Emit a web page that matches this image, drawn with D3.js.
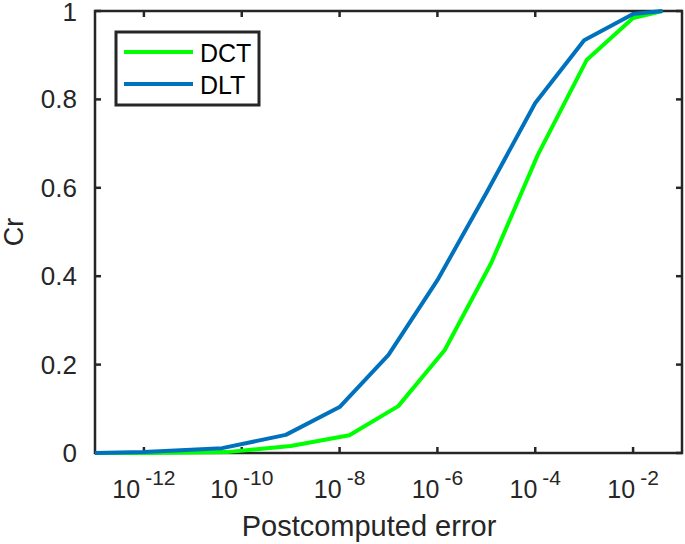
<!DOCTYPE html>
<html>
<head>
<meta charset="utf-8">
<script src="https://cdn.jsdelivr.net/npm/d3@7"></script>
<style>
  body { margin: 0; background: #fff; }
  svg { display: block; font-family: "Liberation Sans", Arial, Helvetica, sans-serif; }
</style>
</head>
<body>
<div id="chart"></div>
<script>
// values (x as exponent of 10)
const dctExp = [-13, -12, -10.3, -9, -7.8, -6.8, -5.85, -4.9, -3.95, -2.95, -2, -1.4];
const dctCr  = [0, 0, 0.002, 0.016, 0.04, 0.106, 0.233, 0.43, 0.674, 0.889, 0.984, 1.0];
const dltExp = [-13, -12, -10.4, -9.1, -8, -7, -6, -5, -4, -3, -2, -1.4];
const dltCr  = [0, 0.002, 0.011, 0.041, 0.104, 0.222, 0.391, 0.588, 0.792, 0.934, 0.993, 1.0];

const xTickExp = [-12, -10, -8, -6, -4, -2];
const yTicks = [0, 0.2, 0.4, 0.6, 0.8, 1];

const seriesNames = ["DCT", "DLT"];
const seriesColors = ["#00ff00", "#0072bd"];

const W = 685, H = 544;
const mLeft = 95, mRight = 682, mTop = 11, mBottom = 453;
const axisColor = "#262626";

const svg = d3.select("#chart").append("svg").attr("width", W).attr("height", H);

const x = d3.scaleLog().domain([1e-13, 1e-1]).range([mLeft, mRight]);
const y = d3.scaleLinear().domain([0, 1]).range([mBottom, mTop]);

drawAxes();
drawLines();
drawLegend();

function drawAxes() {
  const tl = 6;
  // ticks, inward on all four sides
  xTickExp.forEach(e => {
    const px = x(Math.pow(10, e));
    svg.append("line").attr("x1", px).attr("x2", px).attr("y1", mBottom).attr("y2", mBottom - tl)
      .attr("stroke", axisColor).attr("stroke-width", 2.5);
    svg.append("line").attr("x1", px).attr("x2", px).attr("y1", mTop).attr("y2", mTop + tl)
      .attr("stroke", axisColor).attr("stroke-width", 2.5);

    const t = svg.append("text")
      .attr("x", px).attr("y", 498)
      .attr("text-anchor", "middle")
      .attr("fill", axisColor)
      .style("font-size", "25px");
    t.append("tspan").text("10");
    t.append("tspan").attr("dy", -13).attr("dx", 5).style("font-size", "21px").text(String(e));
  });

  yTicks.forEach(v => {
    const py = y(v);
    svg.append("line").attr("x1", mLeft).attr("x2", mLeft + tl).attr("y1", py).attr("y2", py)
      .attr("stroke", axisColor).attr("stroke-width", 2.5);
    svg.append("line").attr("x1", mRight).attr("x2", mRight - tl).attr("y1", py).attr("y2", py)
      .attr("stroke", axisColor).attr("stroke-width", 2.5);
    svg.append("text")
      .attr("x", 77).attr("y", Math.max(py + 9, 21))
      .attr("text-anchor", "end")
      .attr("fill", axisColor)
      .style("font-size", "26px")
      .text(v === 0 || v === 1 ? String(v) : v.toFixed(1));
  });

  svg.append("rect")
    .attr("x", mLeft).attr("y", mTop)
    .attr("width", mRight - mLeft).attr("height", mBottom - mTop)
    .attr("fill", "none").attr("stroke", axisColor).attr("stroke-width", 2.5);

  svg.append("text")
    .attr("x", 369).attr("y", 536)
    .attr("text-anchor", "middle")
    .attr("fill", axisColor)
    .style("font-size", "29px")
    .text("Postcomputed error");

  svg.append("text")
    .attr("transform", `translate(23,${(mTop + mBottom) / 2}) rotate(-90)`)
    .attr("text-anchor", "middle")
    .attr("fill", axisColor)
    .style("font-size", "27px")
    .text("Cr");
}

function drawLines() {
  const line = d3.line().x(d => x(Math.pow(10, d[0]))).y(d => y(d[1]));
  const sets = [d3.zip(dctExp, dctCr), d3.zip(dltExp, dltCr)];
  sets.forEach((pts, i) => {
    svg.append("path")
      .attr("d", line(pts))
      .attr("fill", "none")
      .attr("stroke", seriesColors[i])
      .attr("stroke-width", 4)
      .attr("stroke-linejoin", "round");
  });
}

function drawLegend() {
  svg.append("rect")
    .attr("x", 116).attr("y", 32)
    .attr("width", 143).attr("height", 73)
    .attr("fill", "#fff").attr("stroke", axisColor).attr("stroke-width", 3);

  seriesNames.forEach((name, i) => {
    const ly = 52 + i * 32;
    svg.append("line")
      .attr("x1", 124).attr("x2", 193).attr("y1", ly).attr("y2", ly)
      .attr("stroke", seriesColors[i]).attr("stroke-width", 4);
    svg.append("text")
      .attr("x", 200).attr("y", ly + 10)
      .attr("fill", "#000")
      .style("font-size", "25px")
      .text(name);
  });
}
</script>
</body>
</html>
